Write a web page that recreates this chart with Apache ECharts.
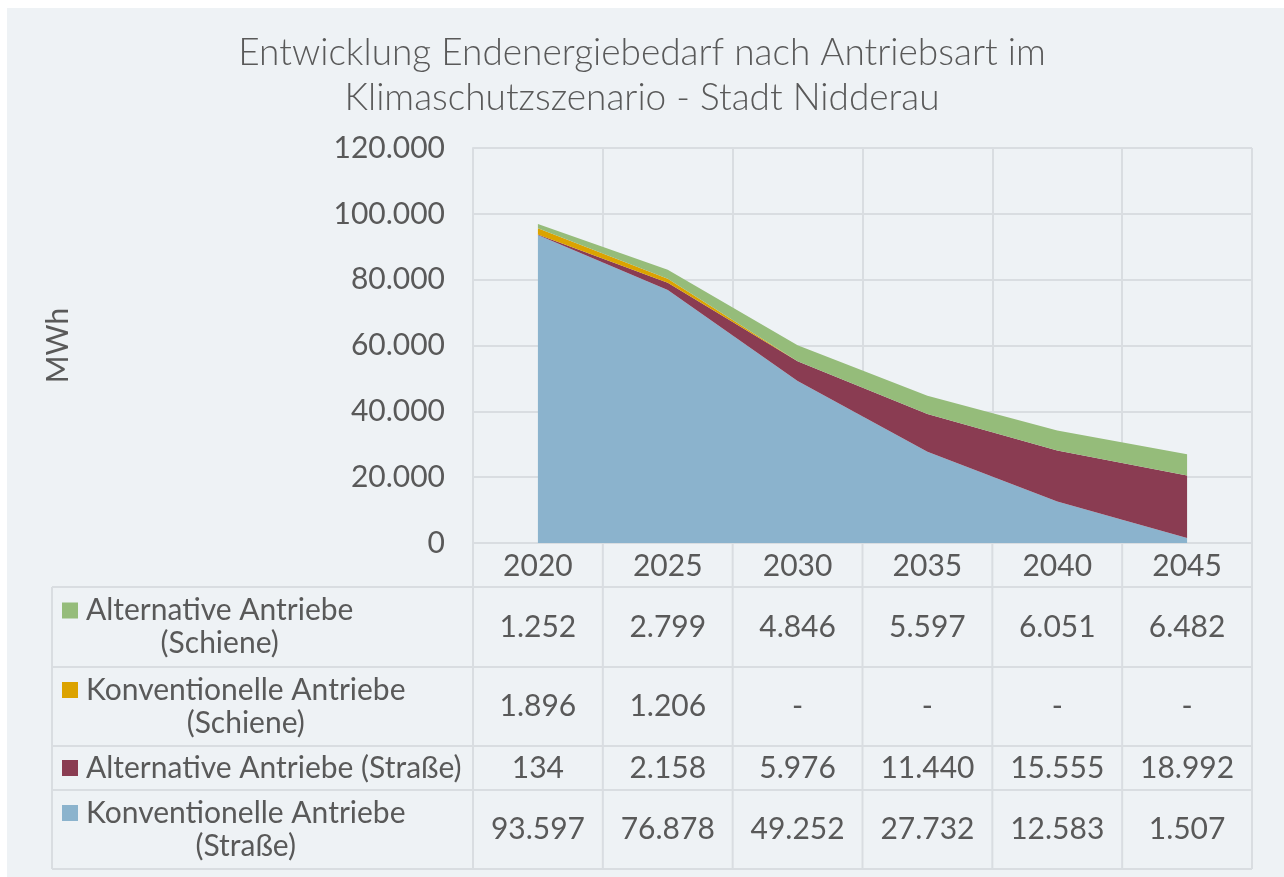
<!DOCTYPE html>
<html>
<head>
<meta charset="utf-8">
<script src="https://cdn.jsdelivr.net/npm/echarts@6/dist/echarts.min.js"></script>
<style>
  html, body { margin: 0; padding: 0; background: #ffffff; }
  #chart {
    width: 1284px; height: 877px;
    background: linear-gradient(#eef2f5, #eef2f5) no-repeat 7px 8px / 1277px 869px, #ffffff;
  }
</style>
</head>
<body>
<div id="chart"></div>
<script>
// Years on the category axis
const years = ['2020', '2025', '2030', '2035', '2040', '2045'];

// Final energy demand per drive type, MWh (stacked bottom to top)
const konvStrasse  = [93597, 76878, 49252, 27732, 12583, 1507];
const altStrasse   = [134, 2158, 5976, 11440, 15555, 18992];
const konvSchiene  = [1896, 1206, 0, 0, 0, 0];
const altSchiene   = [1252, 2799, 4846, 5597, 6051, 6482];

// Series names and the wrapped row labels of the data table
const seriesNames = [
  'Konventionelle Antriebe (Straße)',
  'Alternative Antriebe (Straße)',
  'Konventionelle Antriebe (Schiene)',
  'Alternative Antriebe (Schiene)'
];
const tableLabels = [
  ['Alternative Antriebe', '(Schiene)'],
  ['Konventionelle Antriebe', '(Schiene)'],
  ['Alternative Antriebe (Straße)'],
  ['Konventionelle Antriebe', '(Straße)']
];

const colors = ['#8bb3cd', '#8a3c52', '#dca300', '#95bc7a'];
const FONT = 'Lato, "Open Sans", sans-serif';
const TEXT = '#595959';
const LINE = '#d9dde1';
const FS = 30, LH = 33;

function fmt(v) {
  if (v === 0) return '-';
  return String(v).replace(/\B(?=(\d{3})+(?!\d))/g, '.');
}

const chart = echarts.init(document.getElementById('chart'), null, { renderer: 'canvas' });
const seriesData = [konvStrasse, altStrasse, konvSchiene, altSchiene];

chart.setOption({
  backgroundColor: 'transparent',
  animation: false,
  textStyle: { fontFamily: FONT },
  title: {
    text: 'Entwicklung Endenergiebedarf nach Antriebsart im\nKlimaschutzszenario - Stadt Nidderau',
    left: 'center',
    top: 26,
    textStyle: { fontFamily: FONT, fontSize: 37, fontWeight: 300, color: TEXT, lineHeight: 45 }
  },
  grid: { left: 473, right: 32, top: 148, bottom: 334 },
  xAxis: {
    type: 'category',
    data: years,
    boundaryGap: true,
    axisLine: { show: true, lineStyle: { color: LINE, width: 2 } },
    axisTick: { show: false },
    axisLabel: { fontSize: FS, color: TEXT, margin: 8, fontFamily: FONT },
    splitLine: { show: true, lineStyle: { color: LINE, width: 2 } }
  },
  yAxis: {
    type: 'value',
    min: 0, max: 120000, interval: 20000,
    name: 'MWh',
    nameLocation: 'middle',
    nameRotate: 90,
    nameGap: 400,
    nameTextStyle: { fontSize: FS, color: TEXT, fontFamily: FONT },
    axisLine: { show: true, lineStyle: { color: LINE, width: 2 } },
    axisTick: { show: false },
    axisLabel: { fontSize: FS, color: TEXT, margin: 28, fontFamily: FONT, formatter: v => v === 0 ? '0' : fmt(v) },
    splitLine: { show: true, lineStyle: { color: LINE, width: 2 } }
  },
  series: seriesData.map((d, i) => ({
    name: seriesNames[i],
    type: 'line',
    stack: 'total',
    data: d,
    symbol: 'none',
    lineStyle: { width: 0 },
    areaStyle: { color: colors[i], opacity: 1 },
    itemStyle: { color: colors[i] },
    z: 2
  }))
});

// ---- data table below the plot ----
const measure = (() => {
  const ctx = document.createElement('canvas').getContext('2d');
  return (txt, size) => { ctx.font = size + 'px ' + FONT; return ctx.measureText(txt).width; };
})();

const tableLeft = 52;
const tableTop = 587;
const rowBounds = [587, 667, 746, 790, 869];
const tableRows = [altSchiene, konvSchiene, altStrasse, konvStrasse];
const rowColors = [colors[3], colors[2], colors[1], colors[0]];

const centers = years.map((y, i) => chart.convertToPixel({ xAxisIndex: 0 }, i));
const band = centers.length > 1 ? centers[1] - centers[0] : 130;
const colEdges = [centers[0] - band / 2].concat(centers.map(c => c + band / 2));
const tableRight = colEdges[colEdges.length - 1];
const axisBottom = chart.convertToPixel({ yAxisIndex: 0 }, 0);

const g = [];
const lineShape = (x1, y1, x2, y2) => ({
  type: 'line', shape: { x1, y1, x2, y2 }, style: { stroke: LINE, lineWidth: 2 }, silent: true
});
rowBounds.forEach(y => g.push(lineShape(tableLeft, y, tableRight, y)));
g.push(lineShape(tableLeft, tableTop, tableLeft, rowBounds[rowBounds.length - 1]));
colEdges.forEach(x => g.push(lineShape(x, axisBottom, x, rowBounds[rowBounds.length - 1])));

tableRows.forEach((vals, r) => {
  const yc = (rowBounds[r] + rowBounds[r + 1]) / 2;
  const lines = tableLabels[r];
  const firstY = yc - (lines.length - 1) * LH / 2;
  const blockW = Math.max(...lines.map(t => measure(t, FS)));
  const textX = 86;
  // colour key
  g.push({
    type: 'rect', shape: { x: 62, y: firstY - 8, width: 16, height: 16 },
    style: { fill: rowColors[r] }, silent: true
  });
  lines.forEach((t, k) => {
    g.push({
      type: 'text', x: textX + blockW / 2, y: firstY + k * LH,
      style: { text: t, font: FS + 'px ' + FONT, fill: TEXT, align: 'center', verticalAlign: 'middle' },
      silent: true
    });
  });
  vals.forEach((v, c) => {
    g.push({
      type: 'text', x: centers[c], y: yc,
      style: { text: fmt(v), font: FS + 'px ' + FONT, fill: TEXT, align: 'center', verticalAlign: 'middle' },
      silent: true
    });
  });
});

chart.setOption({ graphic: g });
</script>
</body>
</html>
